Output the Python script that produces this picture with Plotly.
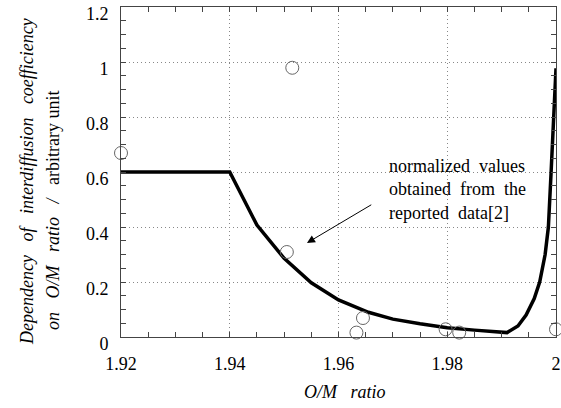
import plotly.graph_objects as go

# Reported data (open circles)
pts_x = [1.920, 1.9515, 1.9505, 1.9633, 1.9645, 1.9797, 1.9822, 2.000]
pts_y = [0.669, 0.979, 0.309, 0.016, 0.069, 0.028, 0.016, 0.028]

# Model curve (thick line)
line_x = [1.920, 1.940, 1.945, 1.950, 1.955, 1.960, 1.9655, 1.970, 1.975, 1.980,
          1.985, 1.991, 1.993, 1.9945, 1.996, 1.997, 1.998, 1.9986, 1.9991, 1.9996, 2.000]
line_y = [0.600, 0.600, 0.407, 0.286, 0.197, 0.135, 0.090, 0.065, 0.048, 0.034,
          0.025, 0.016, 0.040, 0.080, 0.140, 0.200, 0.300, 0.400, 0.600, 0.800, 0.977]

x_ticks = [1.92, 1.94, 1.96, 1.98, 2.0]
x_tick_text = ["1.92", "1.94", "1.96", "1.98", "2"]
y_ticks = [0, 0.2, 0.4, 0.6, 0.8, 1.0, 1.2]
y_tick_text = ["0", "0.2", "0.4", "0.6", "0.8", "1", "1.2"]

serif = "Liberation Serif"
sp = "\u00a0\u00a0\u00a0"

fig = go.Figure()
fig.add_trace(go.Scatter(x=line_x, y=line_y, mode="lines",
                         line=dict(color="black", width=3.5), showlegend=False, cliponaxis=True))
fig.add_trace(go.Scatter(x=pts_x, y=pts_y, mode="markers",
                         marker=dict(symbol="circle-open", size=13, color="#666666", line=dict(width=1)),
                         showlegend=False, cliponaxis=False))

axis_common = dict(showline=True, linecolor="#444444", linewidth=1, mirror="ticks",
                   ticks="inside", ticklen=5, tickcolor="#444444", tickwidth=1,
                   showgrid=True, gridcolor="#888888", griddash="1px,3px", gridwidth=1,
                   zeroline=False, automargin=False, ticklabeloverflow="allow",
                   tickfont=dict(family=serif, size=18, color="black"))

fig.update_xaxes(range=[1.92, 2.0], tickvals=x_ticks, ticktext=x_tick_text,
                 minor=dict(dtick=0.005, ticks="inside", ticklen=5, tickcolor="#444444", showgrid=False),
                 ticklabelstandoff=10, **axis_common)
fig.update_yaxes(range=[0, 1.2], tickvals=y_ticks, ticktext=y_tick_text,
                 minor=dict(dtick=0.05, ticks="inside", ticklen=5, tickcolor="#444444", showgrid=False),
                 ticklabelstandoff=8, ticklabelshift=7, **axis_common)

anns = [
    dict(x=1.9542, y=0.342, ax=1.9663, ay=0.484, xref="x", yref="y", axref="x", ayref="y",
         showarrow=True, arrowhead=2, arrowsize=1.6, arrowwidth=1, arrowcolor="black", text=""),
    dict(x=1.9689, y=0.535, xref="x", yref="y", xanchor="left", yanchor="middle", align="left",
         showarrow=False,
         text="normalized\u00a0\u00a0values<br>obtained\u00a0\u00a0from\u00a0\u00a0the<br>reported\u00a0\u00a0data[2]",
         font=dict(family=serif, size=18, color="black")),
    dict(x=0, y=0.47, xref="paper", yref="paper", xshift=-94, xanchor="center", yanchor="middle",
         textangle=-90, showarrow=False,
         text="<i>Dependency" + sp + "of" + sp + "interdiffusion" + sp + "coefficiency</i>",
         font=dict(family=serif, size=18, color="black")),
    dict(x=0, y=0.382, xref="paper", yref="paper", xshift=-68, xanchor="center", yanchor="middle",
         textangle=-90, showarrow=False,
         text="<i>on" + sp + "O/M" + sp + "ratio" + sp + "/" + sp + "</i>arbitrary unit",
         font=dict(family=serif, size=18, color="black")),
    dict(x=0.515, y=-0.166, xref="paper", yref="paper", xanchor="center", yanchor="middle",
         showarrow=False, text="<i>O/M" + sp + "ratio</i>",
         font=dict(family=serif, size=18, color="black")),
]

fig.update_layout(width=561, height=408, margin=dict(l=121, r=5, t=7, b=71, autoexpand=False),
                  paper_bgcolor="white", plot_bgcolor="white", annotations=anns,
                  font=dict(family=serif))

fig.write_html("out.html", config={"displayModeBar": False},
               post_script="document.body.style.margin='0';document.body.style.padding='0';")
